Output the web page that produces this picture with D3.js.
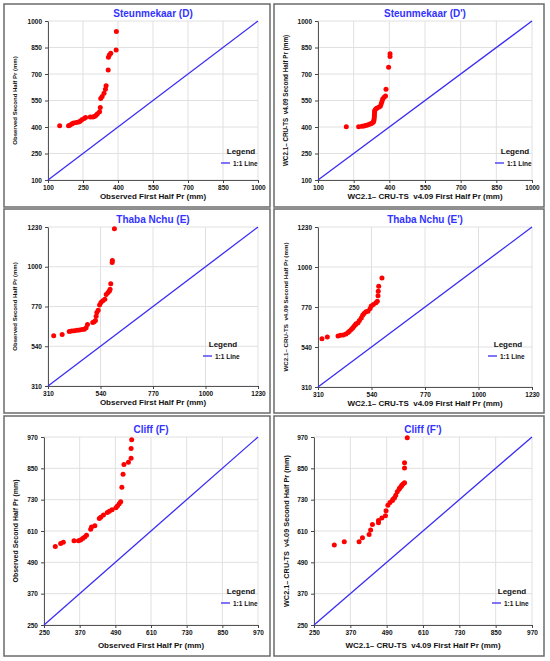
<!DOCTYPE html>
<html>
<head>
<meta charset="utf-8">
<script src="https://cdn.jsdelivr.net/npm/d3@7"></script>
<style>
  body { margin: 0; background: #fff; }
  svg { display: block; font-family: "Liberation Sans", Arial, sans-serif; }
  text { white-space: pre; }
</style>
</head>
<body>
<svg width="550" height="661"></svg>
<script>
var svg = d3.select('svg');

// tick values per row
var ticksD = [100, 250, 400, 550, 700, 850, 1000];
var ticksE = [310, 540, 770, 1000, 1230];
var ticksF = [250, 370, 490, 610, 730, 850, 970];

var titles = ['Steunmekaar (D)', "Steunmekaar (D')", 'Thaba Nchu (E)', "Thaba Nchu (E')", 'Cliff (F)', "Cliff (F')"];
var obsFirstLabel = 'Observed First Half Pr (mm)';
var obsSecondLabel = 'Observed Second Half Pr (mm)';
var wcFirstLabel = 'WC2.1\u2013 CRU-TS  v4.09 First Half Pr (mm)';
var wcSecondLabel = 'WC2.1\u2013 CRU-TS  v4.09 Second Half Pr (mm)';
var legendTitle = 'Legend';
var legendItem = '1:1 Line';

// Steunmekaar, observed (D)
var steunObsFirst = [150, 188, 195, 203, 210, 221, 231, 238, 245, 255, 261, 281, 292, 299, 306, 312, 321, 324, 326, 332, 340, 346, 349, 358, 359, 363, 369, 392, 393];
var steunObsSecond = [407, 407, 412, 418, 422, 426, 429, 433, 441, 448, 454, 456, 456, 460, 467, 475, 486, 510, 561, 573, 591, 614, 633, 723, 795, 808, 817, 836, 940];
// Steunmekaar, WC2.1 - CRU-TS (D')
var steunWcFirst = [219, 271, 285, 293, 300, 308, 316, 322, 328, 333, 335, 336, 337, 337, 338, 338, 342, 347, 355, 362, 366, 369, 372, 378, 384, 386, 397, 403, 403];
var steunWcSecond = [401, 401, 404, 406, 408, 411, 415, 418, 422, 428, 437, 447, 458, 468, 480, 492, 500, 506, 512, 518, 532, 545, 558, 568, 575, 614, 738, 799, 814];
// Thaba Nchu, observed (E)
var thabaObsFirst = [335, 372, 403, 414, 425, 437, 448, 459, 469, 477, 483, 506, 512, 518, 521, 524, 530, 536, 542, 550, 559, 565, 573, 579, 582, 585, 591, 592, 601];
var thabaObsSecond = [601, 608, 626, 628, 630, 632, 634, 637, 639, 647, 666, 678, 682, 689, 714, 735, 749, 778, 793, 803, 812, 839, 851, 859, 870, 901, 1024, 1036, 1220];
// Thaba Nchu, WC2.1 - CRU-TS (E')
var thabaWcFirst = [327, 350, 396, 407, 419, 430, 439, 445, 453, 459, 465, 471, 474, 482, 488, 496, 502, 508, 516, 525, 534, 539, 548, 559, 565, 568, 569, 571, 585];
var thabaWcSecond = [588, 598, 603, 607, 609, 615, 623, 630, 640, 649, 659, 668, 673, 680, 692, 707, 723, 732, 742, 746, 761, 776, 784, 795, 803, 834, 860, 889, 937];
// Cliff, observed (F)
var cliffObsFirst = [288, 306, 315, 351, 366, 373, 380, 387, 393, 407, 410, 421, 436, 441, 450, 463, 470, 479, 492, 497, 503, 508, 512, 516, 519, 534, 543, 543, 545];
var cliffObsSecond = [551, 562, 567, 573, 573, 576, 581, 587, 594, 617, 625, 630, 658, 663, 671, 681, 686, 691, 699, 706, 714, 722, 778, 827, 865, 873, 889, 926, 959];
// Cliff, WC2.1 - CRU-TS (F')
var cliffWcFirst = [317, 350, 399, 410, 432, 437, 443, 463, 463, 474, 486, 488, 494, 501, 509, 511, 516, 520, 525, 531, 533, 538, 540, 544, 549, 549, 549, 558];
var cliffWcSecond = [556, 569, 569, 584, 597, 614, 635, 642, 650, 660, 668, 688, 709, 719, 727, 732, 737, 747, 760, 770, 775, 780, 785, 790, 795, 851, 871, 967];

var blue = '#3a2cf5';

// layout: box = panel frame, plot = [left, top, right, bottom], leg = legend centre/baseline
var panels = [
  {title: titles[0], xs: steunObsFirst, ys: steunObsSecond, ticks: ticksD, xLab: obsFirstLabel, yLab: obsSecondLabel,
   box: [4, 4, 266, 203], plot: [48, 21, 258, 180], yLabX: 15, yLabSize: 6, xLabGap: 19, leg: [241, 154]},
  {title: titles[1], xs: steunWcFirst, ys: steunWcSecond, ticks: ticksD, xLab: wcFirstLabel, yLab: wcSecondLabel,
   box: [274, 4, 270, 203], plot: [318, 21, 532, 180], yLabX: 286, yLabSize: 6.3, xLabGap: 19, leg: [515, 154]},
  {title: titles[2], xs: thabaObsFirst, ys: thabaObsSecond, ticks: ticksE, xLab: obsFirstLabel, yLab: obsSecondLabel,
   box: [4, 209, 266, 204], plot: [48, 227, 258, 386], yLabX: 15, yLabSize: 6, xLabGap: 19, leg: [223, 347]},
  {title: titles[3], xs: thabaWcFirst, ys: thabaWcSecond, ticks: ticksE, xLab: wcFirstLabel, yLab: wcSecondLabel,
   box: [274, 209, 270, 204], plot: [318, 227, 532, 387], yLabX: 286, yLabSize: 6.2, xLabGap: 19, leg: [508, 347]},
  {title: titles[4], xs: cliffObsFirst, ys: cliffObsSecond, ticks: ticksF, xLab: obsFirstLabel, yLab: obsSecondLabel,
   box: [4, 416, 266, 240], plot: [44, 437, 258, 625], yLabX: 16, yLabSize: 7, xLabGap: 23, leg: [241, 594]},
  {title: titles[5], xs: cliffWcFirst, ys: cliffWcSecond, ticks: ticksF, xLab: wcFirstLabel, yLab: wcSecondLabel,
   box: [274, 416, 270, 240], plot: [314, 437, 532, 625], yLabX: 287, yLabSize: 7.3, xLabGap: 23, leg: [512, 594]}
];

function drawPanel(p) {
  var g = svg.append('g');
  g.append('rect')
    .attr('x', p.box[0]).attr('y', p.box[1])
    .attr('width', p.box[2]).attr('height', p.box[3])
    .attr('fill', '#fff').attr('stroke', '#6b6b6b').attr('stroke-width', 1.5);

  var ext = d3.extent(p.ticks);
  var x = d3.scaleLinear().domain(ext).range([p.plot[0], p.plot[2]]);
  var y = d3.scaleLinear().domain(ext).range([p.plot[3], p.plot[1]]);
  var fmt = d3.format('d');

  // grid
  g.selectAll('vgrid').data(p.ticks).enter().append('line')
    .attr('x1', function(d) { return x(d); }).attr('x2', function(d) { return x(d); })
    .attr('y1', p.plot[1]).attr('y2', p.plot[3])
    .attr('stroke', '#e0e0e0').attr('stroke-width', 1);
  g.selectAll('hgrid').data(p.ticks).enter().append('line')
    .attr('y1', function(d) { return y(d); }).attr('y2', function(d) { return y(d); })
    .attr('x1', p.plot[0]).attr('x2', p.plot[2])
    .attr('stroke', '#e0e0e0').attr('stroke-width', 1);

  // axes
  var xAxis = g.append('g')
    .attr('transform', 'translate(0,' + p.plot[3] + ')')
    .call(d3.axisBottom(x).tickValues(p.ticks).tickFormat(fmt).tickSize(3).tickPadding(2).tickSizeOuter(0));
  var yAxis = g.append('g')
    .attr('transform', 'translate(' + p.plot[0] + ',0)')
    .call(d3.axisLeft(y).tickValues(p.ticks).tickFormat(fmt).tickSize(3).tickPadding(3).tickSizeOuter(0));
  [xAxis, yAxis].forEach(function(a) {
    a.select('.domain').attr('stroke', '#555');
    a.selectAll('.tick line').attr('stroke', '#444');
    a.selectAll('.tick text')
      .attr('fill', '#111')
      .style('font-family', '"Liberation Sans", Arial, sans-serif')
      .style('font-size', '6.5px')
      .style('font-weight', 'bold');
  });

  // 1:1 line
  g.append('line')
    .attr('x1', x(ext[0])).attr('y1', y(ext[0]))
    .attr('x2', x(ext[1])).attr('y2', y(ext[1]))
    .attr('stroke', blue).attr('stroke-width', 1.3);

  // points
  g.selectAll('pts').data(p.xs).enter().append('circle')
    .attr('cx', function(d) { return x(d); })
    .attr('cy', function(d, i) { return y(p.ys[i]); })
    .attr('r', 2.5)
    .attr('fill', '#f00');

  // titles
  var cx = (p.plot[0] + p.plot[2]) / 2;
  g.append('text')
    .attr('x', cx).attr('y', p.plot[1] - 4)
    .attr('text-anchor', 'middle')
    .attr('fill', '#3333ff')
    .style('font-size', '10px').style('font-weight', 'bold')
    .text(p.title);
  g.append('text')
    .attr('x', cx).attr('y', p.plot[3] + p.xLabGap)
    .attr('text-anchor', 'middle')
    .attr('fill', '#111')
    .style('font-size', '8px').style('font-weight', 'bold')
    .text(p.xLab);
  g.append('text')
    .attr('transform', 'translate(' + p.yLabX + ',' + (p.plot[1] + p.plot[3]) / 2 + ') rotate(-90)')
    .attr('text-anchor', 'middle')
    .attr('dominant-baseline', 'middle')
    .attr('fill', '#111')
    .style('font-size', p.yLabSize + 'px').style('font-weight', 'bold')
    .text(p.yLab);

  // legend
  g.append('text')
    .attr('x', p.leg[0]).attr('y', p.leg[1])
    .attr('text-anchor', 'middle')
    .attr('fill', '#111')
    .style('font-size', '8px').style('font-weight', 'bold')
    .text(legendTitle);
  g.append('line')
    .attr('x1', p.leg[0] - 20).attr('x2', p.leg[0] - 11)
    .attr('y1', p.leg[1] + 9).attr('y2', p.leg[1] + 9)
    .attr('stroke', blue).attr('stroke-width', 1.3);
  g.append('text')
    .attr('x', p.leg[0] - 8).attr('y', p.leg[1] + 11.5)
    .attr('fill', '#111')
    .style('font-size', '6.5px').style('font-weight', 'bold')
    .text(legendItem);
}

panels.forEach(drawPanel);
</script>
</body>
</html>
